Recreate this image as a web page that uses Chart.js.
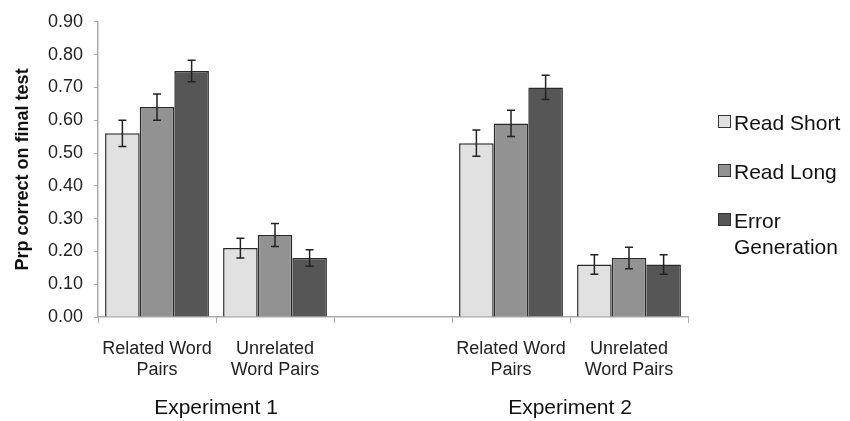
<!DOCTYPE html>
<html>
<head>
<meta charset="utf-8">
<script src="https://cdn.jsdelivr.net/npm/chart.js@4"></script>
<style>
  body { margin: 0; background: #fff; }
  #wrap { width: 850px; height: 421px; position: relative; }
</style>
</head>
<body>
<div id="wrap"><canvas id="grafica" width="850" height="421"></canvas></div>
<script>
const categorias = [['Related Word', 'Pairs'], ['Unrelated', 'Word Pairs'], '', ['Related Word', 'Pairs'], ['Unrelated', 'Word Pairs']];
const experimentos = ['Experiment 1', 'Experiment 2'];
const series = ['Read Short', 'Read Long', ['Error', 'Generation']];

const readShort = [0.56, 0.21, null, 0.53, 0.16];
const readLong = [0.64, 0.25, null, 0.59, 0.18];
const errorGen = [0.75, 0.18, null, 0.70, 0.16];

const errShort = [0.04, 0.03, null, 0.04, 0.03];
const errLong = [0.04, 0.035, null, 0.04, 0.033];
const errGen = [0.033, 0.025, null, 0.037, 0.03];

const colores = ['#e1e1e1', '#929292', '#565656'];
const errores = [errShort, errLong, errGen];

const fuente = '"Liberation Sans", Arial, sans-serif';

const barrasError = {
    id: 'barrasError',
    afterDatasetsDraw(chart) {
        const ctx = chart.ctx;
        const y = chart.scales.y;
        ctx.save();
        ctx.strokeStyle = '#222';
        ctx.lineWidth = 1.5;
        chart.data.datasets.forEach((ds, i) => {
            const meta = chart.getDatasetMeta(i);
            meta.data.forEach((bar, j) => {
                const v = ds.data[j];
                const e = errores[i][j];
                if (v == null || e == null) return;
                const top = y.getPixelForValue(v + e);
                const bot = y.getPixelForValue(v - e);
                const x = bar.x;
                ctx.beginPath();
                ctx.moveTo(x, top); ctx.lineTo(x, bot);
                ctx.moveTo(x - 4, top); ctx.lineTo(x + 4, top);
                ctx.moveTo(x - 4, bot); ctx.lineTo(x + 4, bot);
                ctx.stroke();
            });
        });
        ctx.restore();
    },
    afterDraw(chart) {
        const ctx = chart.ctx;
        const xs = chart.scales.x;
        ctx.save();
        // etiquetas de experimento
        ctx.fillStyle = '#111';
        ctx.font = '21px ' + fuente;
        ctx.textAlign = 'center';
        ctx.textBaseline = 'middle';
        const pares = [[0, 1], [3, 4]];
        pares.forEach((p, k) => {
            const cx = (xs.getPixelForValue(p[0]) + xs.getPixelForValue(p[1])) / 2;
            ctx.fillText(experimentos[k], cx, 408);
        });
        // leyenda
        ctx.textAlign = 'left';
        ctx.font = '21px ' + fuente;
        let yy = 124;
        series.forEach((s, i) => {
            ctx.fillStyle = colores[i];
            ctx.strokeStyle = '#333';
            ctx.lineWidth = 1;
            ctx.fillRect(718.5, yy - 8.5, 12, 12);
            ctx.strokeRect(718.5, yy - 8.5, 12, 12);
            ctx.fillStyle = '#111';
            const lineas = Array.isArray(s) ? s : [s];
            lineas.forEach((t, k) => ctx.fillText(t, 734, yy + k * 26));
            yy += 49;
        });
        ctx.restore();
    }
};

const ctx = document.getElementById('grafica').getContext('2d');
const grafica = new Chart(ctx, {
    type: 'bar',
    data: {
        labels: categorias,
        datasets: [readShort, readLong, errorGen].map((d, i) => ({
            label: Array.isArray(series[i]) ? series[i].join(' ') : series[i],
            data: d,
            backgroundColor: colores[i],
            borderColor: '#2a2a2a',
            borderWidth: 1.5,
            barPercentage: 1,
            categoryPercentage: 0.88
        }))
    },
    options: {
        responsive: false,
        animation: false,
        layout: { padding: { top: 10, right: 162, left: 0, bottom: 0 } },
        plugins: {
            legend: { display: false },
            tooltip: { enabled: false }
        },
        scales: {
            x: {
                grid: { display: true, drawOnChartArea: false, color: '#aaa', tickLength: 6, offset: true },
                border: { color: '#aaa', width: 1.5 },
                ticks: {
                    color: '#222',
                    font: { family: fuente, size: 18, lineHeight: 1.18 },
                    maxRotation: 0,
                    autoSkip: false,
                    padding: 15
                },
                afterFit(scale) { scale.height = 104; }
            },
            y: {
                min: 0,
                max: 0.9,
                grid: { display: true, drawOnChartArea: false, color: '#aaa', tickLength: 4 },
                border: { color: '#aaa', width: 1.5 },
                ticks: {
                    stepSize: 0.1,
                    color: '#222',
                    font: { family: fuente, size: 18 },
                    padding: 11,
                    callback: v => v.toFixed(2)
                },
                title: {
                    display: true,
                    text: 'Prp correct on final test',
                    color: '#111',
                    font: { family: fuente, size: 18, weight: 'bold' },
                    padding: { top: 12, bottom: 0 }
                },
                afterFit(scale) { scale.width = 98; }
            }
        }
    },
    plugins: [barrasError]
});
</script>
</body>
</html>
